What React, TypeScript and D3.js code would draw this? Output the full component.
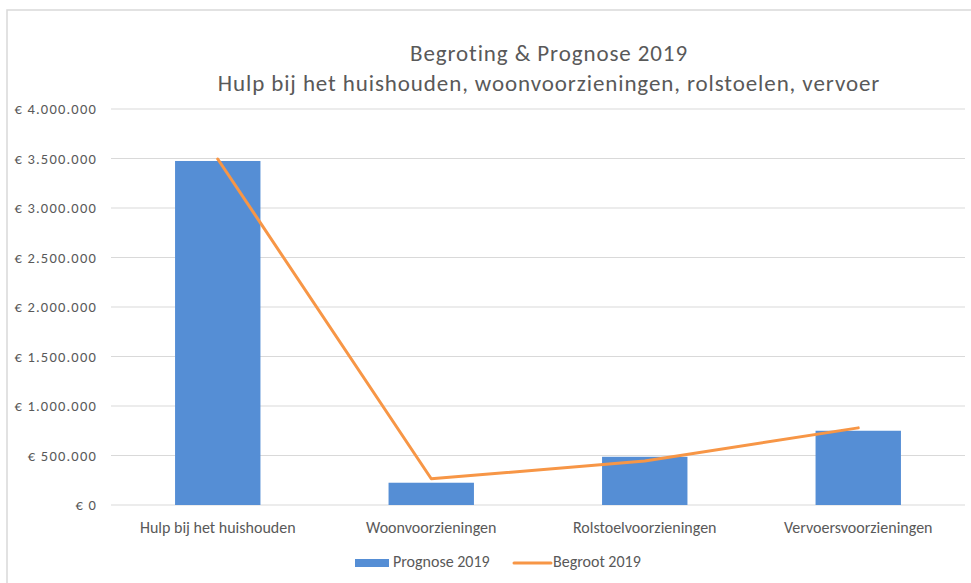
import * as d3 from 'd3'

// categorieën en waarden
const categories = ['Hulp bij het huishouden', 'Woonvoorzieningen', 'Rolstoelvoorzieningen', 'Vervoersvoorzieningen']
const prognose = [3475000, 225000, 487000, 750000]
const begroot = [3495000, 265000, 444000, 779000]
const yTicks = [0, 500000, 1000000, 1500000, 2000000, 2500000, 3000000, 3500000, 4000000]

const W = 971, H = 583
const M = { top: 109, right: 6, bottom: 78, left: 111 }
const IW = W - M.left - M.right
const IH = H - M.top - M.bottom

const FONT = 'Carlito, Calibri, Lato, sans-serif'
const TXT = '#595959'
const BAR = '#558ED5'
const LINE = '#F79646'

const fmt = (v: number) => '€ ' + d3.format(',')(v).replace(/,/g, '.')

export default function App() {
  const x = d3.scaleBand<string>().domain(categories).range([0, IW]).paddingInner(0.6).paddingOuter(0.3)
  const y = d3.scaleLinear().domain([0, 4000000]).range([IH, 0])
  const cx = (c: string) => x(c)! + x.bandwidth() / 2

  const line = d3.line<number>()
    .x((_, i) => cx(categories[i]))
    .y((d) => y(d))

  return (
    <svg width={W} height={H} style={{ position: 'absolute', left: 0, top: 0, background: '#fff' }}>
      <rect x={7} y={10} width={W + 20} height={H + 20} fill="#fff" stroke="#D9D9D9" strokeWidth={1.5} />

      <text x={549} y={61} textAnchor="middle" fontFamily={FONT} fontSize={23} letterSpacing={0.9} fill={TXT}>Begroting &amp; Prognose 2019</text>
      <text x={549} y={91} textAnchor="middle" fontFamily={FONT} fontSize={23} letterSpacing={0.9} fill={TXT}>Hulp bij het huishouden, woonvoorzieningen, rolstoelen, vervoer</text>

      <g transform={`translate(${M.left},${M.top})`}>
        {yTicks.map((t) => (
          <g key={t}>
            <line x1={0} x2={IW} y1={y(t)} y2={y(t)} stroke="#D9D9D9" strokeWidth={1} />
            <text x={-14} y={y(t)} dy="0.35em" textAnchor="end" fontFamily={FONT} fontSize={14.5} letterSpacing={1.2} fill={TXT}>{fmt(t)}</text>
          </g>
        ))}

        {categories.map((c, i) => (
          <rect key={c} x={x(c)} y={y(prognose[i])} width={x.bandwidth()} height={IH - y(prognose[i])} fill={BAR} />
        ))}

        <path d={line(begroot)!} fill="none" stroke={LINE} strokeWidth={3} strokeLinejoin="round" strokeLinecap="round" />

        {categories.map((c) => (
          <text key={c} x={cx(c)} y={IH + 28} textAnchor="middle" fontFamily={FONT} fontSize={16} fill={TXT}>{c}</text>
        ))}
      </g>

      {/* legenda */}
      <rect x={355} y={559} width={34} height={8} fill={BAR} />
      <text x={393} y={567} fontFamily={FONT} fontSize={16} fill={TXT}>Prognose 2019</text>
      <line x1={514} x2={551} y1={563} y2={563} stroke={LINE} strokeWidth={3} strokeLinecap="round" />
      <text x={553} y={567} fontFamily={FONT} fontSize={16} fill={TXT}>Begroot 2019</text>
    </svg>
  )
}
